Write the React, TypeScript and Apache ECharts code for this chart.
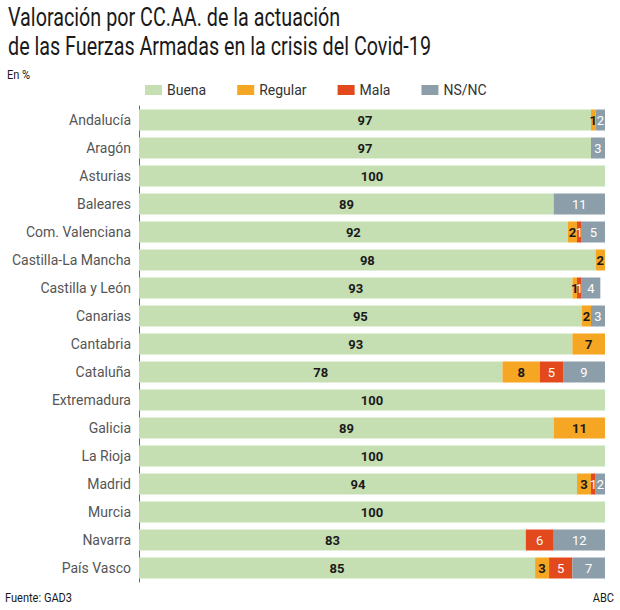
import React, { useEffect, useRef } from "react";
import * as echarts from "echarts";

const categories = [
  "Andalucía", "Aragón", "Asturias", "Baleares", "Com. Valenciana",
  "Castilla-La Mancha", "Castilla y León", "Canarias", "Cantabria", "Cataluña",
  "Extremadura", "Galicia", "La Rioja", "Madrid", "Murcia", "Navarra", "País Vasco",
];
const buena = [97, 97, 100, 89, 92, 98, 93, 95, 93, 78, 100, 89, 100, 94, 100, 83, 85];
const regular = [1, 0, 0, 0, 2, 2, 1, 2, 7, 8, 0, 11, 0, 3, 0, 0, 3];
const mala = [0, 0, 0, 0, 1, 0, 1, 0, 0, 5, 0, 0, 0, 1, 0, 6, 5];
const nsnc = [2, 3, 0, 11, 5, 0, 4, 3, 0, 9, 0, 0, 0, 2, 0, 12, 7];

const seriesNames = ["Buena", "Regular", "Mala", "NS/NC"];
const seriesColors = ["#c5dfb3", "#f5a623", "#e2491d", "#8d9eab"];
const labelColors = ["#1a1a1a", "#1a1a1a", "#ffffff", "#ffffff"];
const labelWeights = ["bold", "bold", "normal", "normal"];

const TITLE_LINES = [
  "Valoración por CC.AA. de la actuación",
  "de las Fuerzas Armadas en la crisis del Covid-19",
];

const FONT = "Roboto, sans-serif";

export default function App() {
  const ref = useRef<HTMLDivElement>(null);
  useEffect(() => {
    if (!ref.current) return;
    const chart = echarts.init(ref.current, null, { renderer: "svg" });
    const data = [buena, regular, mala, nsnc];
    chart.setOption({
      animation: false,
      backgroundColor: "#ffffff",
      textStyle: { fontFamily: FONT },
      graphic: [
        {
          type: "text",
          left: 8,
          top: 3,
          scaleX: 0.79,
          style: {
            text: TITLE_LINES.join("\n"),
            fontFamily: FONT,
            fontSize: 25,
            lineHeight: 29,
            fill: "#1a1a1a",
          },
        },
        {
          type: "text",
          left: 7,
          top: 68,
          scaleX: 0.85,
          style: { text: "En %", fontFamily: FONT, fontSize: 13, fill: "#1a1a1a" },
        },
        {
          type: "text",
          left: 5,
          top: 591,
          scaleX: 0.85,
          style: { text: "Fuente: GAD3", fontFamily: FONT, fontSize: 13, fill: "#1a1a1a" },
        },
        {
          type: "text",
          right: 6,
          top: 591,
          scaleX: 0.85,
          style: { text: "ABC", fontFamily: FONT, fontSize: 13, fill: "#1a1a1a" },
        },
      ],
      legend: {
        top: 78,
        left: 140,
        itemWidth: 17,
        itemHeight: 10,
        itemGap: 31,
        icon: "rect",
        textStyle: { fontFamily: FONT, fontSize: 14, color: "#333" },
        data: seriesNames,
      },
      grid: { left: 139, right: 15, top: 106, bottom: 28, containLabel: false },
      xAxis: { type: "value", min: 0, max: 100, show: false },
      yAxis: {
        type: "category",
        inverse: true,
        data: categories,
        axisLine: { show: true, lineStyle: { color: "#666", width: 1 } },
        axisTick: { show: false },
        axisLabel: { fontFamily: FONT, fontSize: 14, color: "#555", margin: 8 },
      },
      series: seriesNames.map((name, i) => ({
        name,
        type: "bar",
        stack: "total",
        barWidth: 21,
        itemStyle: { color: seriesColors[i] },
        data: data[i],
        label: {
          show: true,
          position: "inside",
          color: labelColors[i],
          fontWeight: labelWeights[i],
          fontSize: 13,
          fontFamily: FONT,
          formatter: (p: any) => (p.value ? String(p.value) : ""),
        },
      })),
    });
    return () => chart.dispose();
  }, []);
  return (
    <div
      ref={ref}
      style={{ position: "absolute", left: 0, top: 0, width: 620, height: 610 }}
    />
  );
}
